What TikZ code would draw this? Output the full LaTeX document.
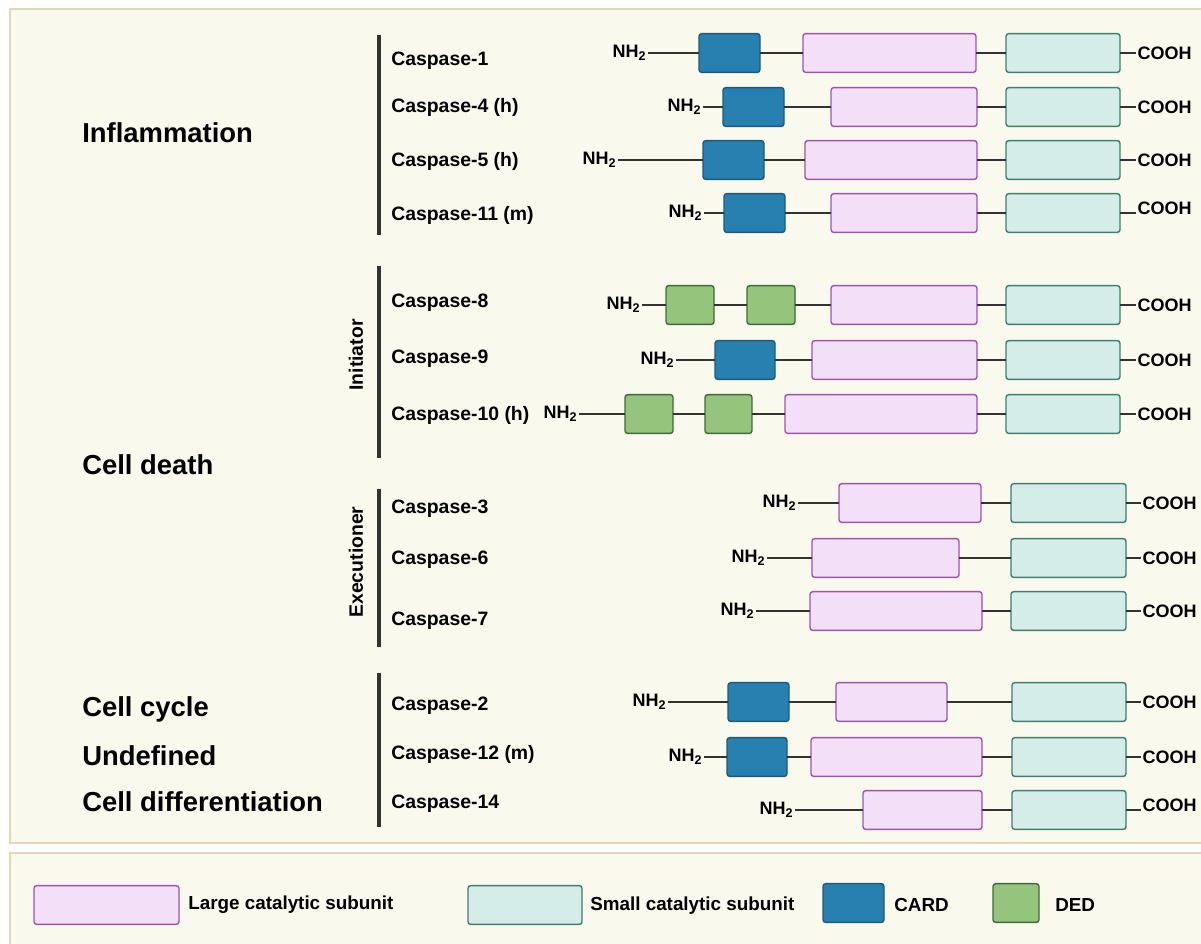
\documentclass[tikz,border=0pt]{standalone}
\usepackage{fontspec}
\setmainfont{Liberation Sans}
\definecolor{panelbg}{HTML}{FAF9EE}
\definecolor{panelline}{HTML}{E2D8B8}
\definecolor{largefill}{HTML}{F3E0F8}
\definecolor{largeline}{HTML}{9C55AA}
\definecolor{smallfill}{HTML}{D4EDE8}
\definecolor{smallline}{HTML}{3F7D70}
\definecolor{cardfill}{HTML}{2880B0}
\definecolor{cardline}{HTML}{1E5A7A}
\definecolor{dedfill}{HTML}{95C47D}
\definecolor{dedline}{HTML}{3F6B3A}
\definecolor{linkgray}{HTML}{333333}
\tikzset{
  dombox/.style={rectangle, rounded corners=2pt, line width=1pt, inner sep=0pt, outer sep=0pt, minimum height=0.97cm, anchor=west},
  wd/.style={minimum width=#1*0.025cm},
  large/.style={dombox, draw=largeline, fill=largefill},
  small/.style={dombox, draw=smallline, fill=smallfill},
  card/.style={dombox, draw=cardline, fill=cardfill},
  ded/.style={dombox, draw=dedline, fill=dedfill},
  term/.style={font=\bfseries\fontsize{12.8}{14}\selectfont, inner sep=1pt},
  casp/.style={anchor=west, font=\bfseries\fontsize{13.8}{16}\selectfont, inner sep=0pt, yshift=-1.5pt},
  role/.style={anchor=west, font=\bfseries\fontsize{19.5}{22}\selectfont, inner sep=0pt},
  key/.style={anchor=west, font=\bfseries\fontsize{13.4}{16}\selectfont, inner sep=0pt, yshift=-1.5pt},
  link/.style={line width=1pt, draw=linkgray},
  bar/.style={line width=2.8pt, draw=linkgray},
}
\begin{document}
\begin{tikzpicture}[x=0.025cm,y=-0.025cm]
\clip (0,0) rectangle (1201,943);
\fill[white] (0,0) rectangle (1201,943);
\draw[panelline, fill=panelbg, line width=1.4pt] (10,9) rectangle (1215,843);
\draw[panelline, fill=panelbg, line width=1.4pt] (10,853) rectangle (1215,960);

% groups
\node[role] (infl) at (82,133) {Inflammation};
\node[role] (death) at (82,465) {Cell death};
\node[role] (cycle) at (82,709) {Cell cycle};
\node[role] (undef) at (82,756) {Undefined};
\node[role] (diff) at (82,802) {Cell differentiation};

\draw[bar] (379,35) -- (379,235);
\draw[bar] (379,266) -- (379,458);
\draw[bar] (379,489) -- (379,647);
\draw[bar] (379,673) -- (379,827);
\node[casp, anchor=center, yshift=1.5pt, rotate=90] (init) at (356,355) {Initiator};
\node[casp, anchor=center, yshift=1.5pt, rotate=90] (exec) at (356,562) {Executioner};

% Caspase-1
\node[casp] (c1) at (391,59) {Caspase-1};
\node[term, anchor=east] (n1) at (648,53) {NH\textsubscript{2}};
\node[card, wd=61] (d1) at (699,53) {};
\node[large, wd=173] (l1) at (803,53) {};
\node[small, wd=114] (s1) at (1006,53) {};
\node[term, anchor=west] (h1) at (1136,53) {COOH};
\draw[link] (n1) -- (d1) (d1) -- (l1) (l1) -- (s1) (s1) -- (h1);

% Caspase-4
\node[casp] (c2) at (391,105) {Caspase-4 (h)};
\node[term, anchor=east] (n2) at (703,107) {NH\textsubscript{2}};
\node[card, wd=61] (d2) at (723,107) {};
\node[large, wd=146] (l2) at (831,107) {};
\node[small, wd=114] (s2) at (1006,107) {};
\node[term, anchor=west] (h2) at (1136,107) {COOH};
\draw[link] (n2) -- (d2) (d2) -- (l2) (l2) -- (s2) (s2) -- (h2);

% Caspase-5
\node[casp] (c3) at (391,159) {Caspase-5 (h)};
\node[term, anchor=east] (n3) at (618,160) {NH\textsubscript{2}};
\node[card, wd=61] (d3) at (703,160) {};
\node[large, wd=172] (l3) at (805,160) {};
\node[small, wd=114] (s3) at (1006,160) {};
\node[term, anchor=west] (h3) at (1136,160) {COOH};
\draw[link] (n3) -- (d3) (d3) -- (l3) (l3) -- (s3) (s3) -- (h3);

% Caspase-11
\node[casp] (c4) at (391,213) {Caspase-11 (m)};
\node[term, anchor=east] (n4) at (704,213) {NH\textsubscript{2}};
\node[card, wd=61] (d4) at (724,213) {};
\node[large, wd=146] (l4) at (831,213) {};
\node[small, wd=114] (s4) at (1006,213) {};
\node[term, anchor=west] (h4) at (1136,208) {COOH};
\draw[link] (n4) -- (d4) (d4) -- (l4) (l4) -- (s4) (s4.east) -- (s4.east -| h4.west);

% Caspase-8
\node[casp] (c5) at (391,301) {Caspase-8};
\node[term, anchor=east] (n5) at (642,305) {NH\textsubscript{2}};
\node[ded, wd=48] (d5a) at (666,305) {};
\node[ded, wd=48] (d5b) at (747,305) {};
\node[large, wd=146] (l5) at (831,305) {};
\node[small, wd=114] (s5) at (1006,305) {};
\node[term, anchor=west] (h5) at (1136,305) {COOH};
\draw[link] (n5) -- (d5a) (d5a) -- (d5b) (d5b) -- (l5) (l5) -- (s5) (s5) -- (h5);

% Caspase-9
\node[casp] (c6) at (391,357) {Caspase-9};
\node[term, anchor=east] (n6) at (676,360) {NH\textsubscript{2}};
\node[card, wd=60] (d6) at (715,360) {};
\node[large, wd=165] (l6) at (812,360) {};
\node[small, wd=114] (s6) at (1006,360) {};
\node[term, anchor=west] (h6) at (1136,360) {COOH};
\draw[link] (n6) -- (d6) (d6) -- (l6) (l6) -- (s6) (s6) -- (h6);

% Caspase-10
\node[casp] (c7) at (391,413) {Caspase-10 (h)};
\node[term, anchor=east] (n7) at (579,414) {NH\textsubscript{2}};
\node[ded, wd=48] (d7a) at (625,414) {};
\node[ded, wd=47] (d7b) at (705,414) {};
\node[large, wd=192] (l7) at (785,414) {};
\node[small, wd=114] (s7) at (1006,414) {};
\node[term, anchor=west] (h7) at (1136,414) {COOH};
\draw[link] (n7) -- (d7a) (d7a) -- (d7b) (d7b) -- (l7) (l7) -- (s7) (s7) -- (h7);

% Caspase-3
\node[casp] (c8) at (391,507) {Caspase-3};
\node[term, anchor=east] (n8) at (798,503) {NH\textsubscript{2}};
\node[large, wd=142] (l8) at (839,503) {};
\node[small, wd=115] (s8) at (1011,503) {};
\node[term, anchor=west] (h8) at (1141,503) {COOH};
\draw[link] (n8) -- (l8) (l8) -- (s8) (s8) -- (h8);

% Caspase-6
\node[casp] (c9) at (391,558) {Caspase-6};
\node[term, anchor=east] (n9) at (767,558) {NH\textsubscript{2}};
\node[large, wd=147] (l9) at (812,558) {};
\node[small, wd=115] (s9) at (1011,558) {};
\node[term, anchor=west] (h9) at (1141,558) {COOH};
\draw[link] (n9) -- (l9) (l9) -- (s9) (s9) -- (h9);

% Caspase-7
\node[casp] (c10) at (391,619) {Caspase-7};
\node[term, anchor=east] (n10) at (756,611) {NH\textsubscript{2}};
\node[large, wd=172] (l10) at (810,611) {};
\node[small, wd=115] (s10) at (1011,611) {};
\node[term, anchor=west] (h10) at (1141,611) {COOH};
\draw[link] (n10) -- (l10) (l10) -- (s10) (s10) -- (h10);

% Caspase-2
\node[casp] (c11) at (391,704) {Caspase-2};
\node[term, anchor=east] (n11) at (668,702) {NH\textsubscript{2}};
\node[card, wd=61] (d11) at (728,702) {};
\node[large, wd=111] (l11) at (836,702) {};
\node[small, wd=114] (s11) at (1012,702) {};
\node[term, anchor=west] (h11) at (1141,702) {COOH};
\draw[link] (n11) -- (d11) (d11) -- (l11) (l11) -- (s11) (s11) -- (h11);

% Caspase-12
\node[casp] (c12) at (391,752) {Caspase-12 (m)};
\node[term, anchor=east] (n12) at (704,757) {NH\textsubscript{2}};
\node[card, wd=60] (d12) at (727,757) {};
\node[large, wd=171] (l12) at (811,757) {};
\node[small, wd=114] (s12) at (1012,757) {};
\node[term, anchor=west] (h12) at (1141,757) {COOH};
\draw[link] (n12) -- (d12) (d12) -- (l12) (l12) -- (s12) (s12) -- (h12);

% Caspase-14
\node[casp] (c13) at (391,802) {Caspase-14};
\node[term, anchor=east] (n13) at (795,810) {NH\textsubscript{2}};
\node[large, wd=119] (l13) at (863,810) {};
\node[small, wd=114] (s13) at (1012,810) {};
\node[term, anchor=west] (h13) at (1141,805) {COOH};
\draw[link] (n13) -- (l13) (l13) -- (s13) (s13.east) -- (s13.east -| h13.west);

% legend
\node[large, wd=145] (kl) at (34,905) {};
\node[key] (klt) at (188,903) {Large catalytic subunit};
\node[small, wd=114] (ks) at (468,905) {};
\node[key] (kst) at (590,903) {Small catalytic subunit};
\node[card, wd=61] (kc) at (823,903) {};
\node[key] (kct) at (894,903) {CARD};
\node[ded, wd=46] (kd) at (993,903) {};
\node[key] (kdt) at (1055,903) {DED};
\end{tikzpicture}
\end{document}
